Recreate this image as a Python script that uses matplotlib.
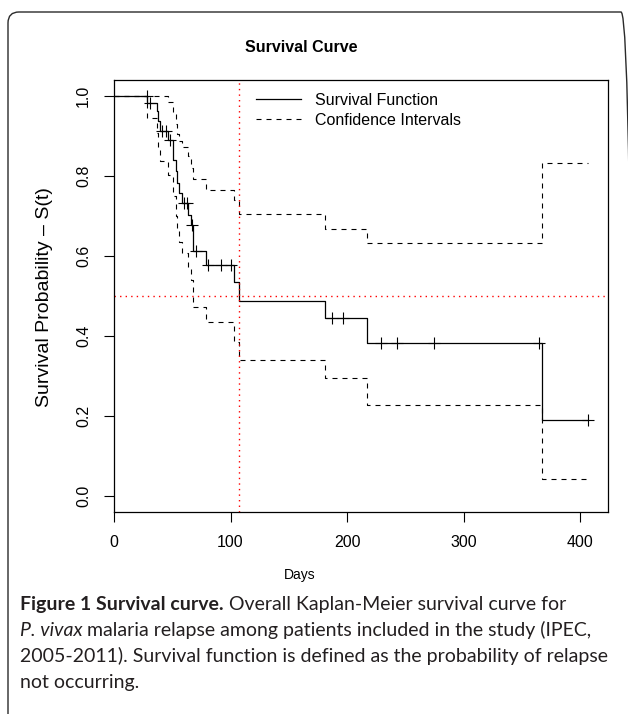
import numpy as np
import matplotlib
matplotlib.use("Agg")
import matplotlib.pyplot as plt
from matplotlib.patches import FancyBboxPatch
from matplotlib.lines import Line2D
from matplotlib.transforms import IdentityTransform

# ── data ──────────────────────────────────────────────────────────────────────
event_t = [28.5, 36.5, 38, 39.5, 46, 50.7, 53, 54.5, 56, 58, 63.5, 66, 68,
           78.6, 103.4, 107, 181, 217, 367.5]
surv    = [0.982, 0.962, 0.937, 0.913, 0.891, 0.84, 0.812, 0.783, 0.758, 0.733,
           0.703, 0.677, 0.612, 0.578, 0.534, 0.488, 0.444, 0.382, 0.19]
upper   = [1.0, 1.0, 1.0, 1.0, 0.985, 0.957, 0.93, 0.905, 0.887, 0.873,
           0.85, 0.82, 0.793, 0.766, 0.74, 0.704, 0.668, 0.633, 0.833]
lower   = [0.946, 0.907, 0.87, 0.837, 0.802, 0.75, 0.70, 0.665, 0.635, 0.608,
           0.57, 0.54, 0.473, 0.436, 0.386, 0.34, 0.294, 0.2275, 0.0425]
censor_t = [28, 31, 41, 44.5, 48, 60.5, 62.5, 67, 70.7, 80.7, 91.5, 100.6,
            187.5, 196.6, 229.4, 243, 275, 364.7, 407]
t_end = 407
median_t = 107

x_ticks = [0, 100, 200, 300, 400]
y_ticks = [0.0, 0.2, 0.4, 0.6, 0.8, 1.0]

caption = [
    [("Figure 1 Survival curve.", "bold"), (" Overall Kaplan-Meier survival curve for", "normal")],
    [("P. vivax", "italic"), (" malaria relapse among patients included in the study (IPEC,", "normal")],
    [("2005-2011). Survival function is defined as the probability of relapse", "normal")],
    [("not occurring.", "normal")],
]

# ── figure ────────────────────────────────────────────────────────────────────
W, H = 628, 714
fig = plt.figure(figsize=(W / 100, H / 100), dpi=100, facecolor="white")
plt.rcParams["font.family"] = ["Liberation Sans", "DejaVu Sans"]

# rounded frame around the figure (right edge falls just outside the canvas)
frame = FancyBboxPatch((8, -30), 624, 702 + 30, boxstyle="round,pad=0,rounding_size=11",
                       transform=IdentityTransform(), fill=False,
                       ec="#2a2a2a", lw=1.0)
fig.patches.append(frame)

ax = fig.add_axes([114 / W, 1 - 512 / H, (608 - 114) / W, (512 - 80) / H])

xs = [0] + event_t + [t_end]
ax.plot(xs, [1.0] + surv + [surv[-1]], drawstyle="steps-post",
        color="black", lw=0.9)
ax.plot(xs, [1.0] + upper + [upper[-1]], drawstyle="steps-post",
        color="black", lw=0.8, ls=(0, (4.5, 4.5)))
ax.plot(xs, [1.0] + lower + [lower[-1]], drawstyle="steps-post",
        color="black", lw=0.8, ls=(0, (4.5, 4.5)))

# censor marks on the survival curve
et = np.array(event_t)
sv = np.array([1.0] + surv)
cy = sv[np.searchsorted(et, censor_t, side="right")]
ax.plot(censor_t, cy, "+", color="black", ms=8, mew=0.8, ls="none")

ax.axhline(0.5, color="red", lw=1.0, ls=(0, (1, 3)))
ax.axvline(median_t, color="red", lw=1.0, ls=(0, (1, 3)))

ax.set_xlim(0, 424)
ax.set_ylim(-0.04, 1.04)
ax.set_xticks(x_ticks)
ax.set_xticklabels([str(v) for v in x_ticks])
ax.set_yticks(y_ticks)
ax.set_yticklabels([f"{v:.1f}" for v in y_ticks], rotation=90, va="center")
ax.tick_params(direction="out", length=7.5, width=0.8, labelsize=11.5, pad=9)
for sp in ax.spines.values():
    sp.set_linewidth(0.9)

leg_handles = [Line2D([], [], color="black", lw=0.9),
               Line2D([], [], color="black", lw=0.8, ls=(0, (4.5, 4.5)))]
ax.legend(leg_handles, ["Survival Function", "Confidence Intervals"],
          loc="upper left", bbox_to_anchor=((256 - 114) / 494, 1 - 13 / 432),
          frameon=False, fontsize=11.5, handlelength=2.8, handletextpad=0.9,
          labelspacing=0.3, borderpad=0, borderaxespad=0)

fig.text(301 / W, 1 - 47 / H, "Survival Curve", ha="center", va="center",
         fontsize=11.5, fontweight="bold")
fig.text(300 / W, 1 - 575 / H, "Days", ha="center", va="center", fontsize=10)
fig.text(45 / W, 1 - 297 / H, "Survival Probability \u2013 S(t)", ha="center",
         va="center", rotation=90, fontsize=14)

# caption with mixed styles
renderer = fig.canvas.get_renderer()
cap_font = ["Lato", "DejaVu Sans"]
baselines = [610, 636, 662, 688]
for line, base in zip(caption, baselines):
    x = 20
    for txt, style in line:
        kw = dict(fontsize=14.0, family=cap_font, color="#231f20",
                  va="baseline", ha="left", transform=IdentityTransform())
        if style == "bold":
            kw["fontweight"] = "bold"
        if style == "italic":
            kw["fontstyle"] = "italic"
        t = fig.text(x, H - base, txt, **kw)
        bb = t.get_window_extent(renderer)
        x = bb.x1

fig.savefig("out.png", dpi=100, facecolor="white")
